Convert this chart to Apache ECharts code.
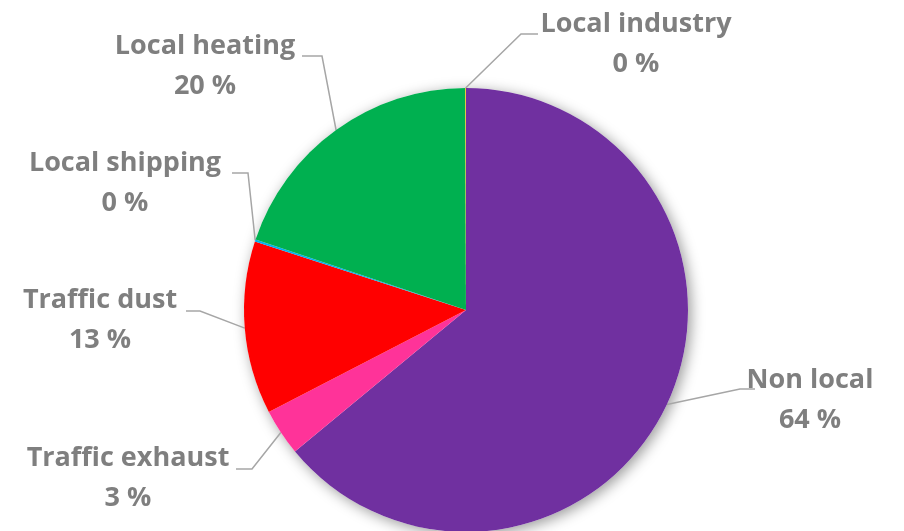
<!DOCTYPE html>
<html>
<head>
<meta charset="utf-8">
<script src="https://cdn.jsdelivr.net/npm/echarts@6/dist/echarts.min.js"></script>
<style>
  html, body { margin: 0; padding: 0; background: #fff; }
  #chart { width: 904px; height: 531px; }
</style>
</head>
<body>
<div id="chart"></div>
<script>
const categories = ['Non local', 'Traffic exhaust', 'Traffic dust', 'Local shipping', 'Local heating', 'Local industry']
const shares = [64.0, 3.4, 12.6, 0.15, 19.8, 0.05]
const colors = ['#7030A0', '#FF3399', '#FF0000', '#00B0F0', '#00B050', '#FFC000']

// label block centres and leader knees (px), per slice
const labelCenters = [[810, 400], [128, 478], [100, 320], [125, 183], [205, 66], [636, 44]]
const leaderKnees = [[740, 389, 755], [252, 469, 236], [200, 311, 186], [248, 173, 232], [322, 56, 302], [521, 34, 538]]

const chart = echarts.init(document.getElementById('chart'))

const data = categories.map((name, i) => ({
  name,
  value: shares[i],
  itemStyle: { color: colors[i] },
}))

const textStyle = { fontFamily: 'Open Sans', fontWeight: 'bold', fontSize: 27, color: '#7F7F7F', lineHeight: 40 }

chart.setOption({
  animation: false,
  series: [
    {
      // soft outer shadow behind the pie
      type: 'pie',
      silent: true,
      center: [466, 310],
      radius: 222,
      z: 1,
      label: { show: false },
      labelLine: { show: false },
      itemStyle: {
        color: '#fff',
        shadowBlur: 14,
        shadowOffsetX: 3,
        shadowOffsetY: 3,
        shadowColor: 'rgba(0,0,0,0.4)',
      },
      data: [{ value: 1 }],
    },
    {
      type: 'pie',
      center: [466, 310],
      radius: 222,
      z: 2,
      startAngle: 90,
      clockwise: true,
      itemStyle: { borderWidth: 0 },
      label: {
        show: true,
        position: 'outside',
        formatter: (p) => `{n|${p.name}}\n{p|${Math.round(p.percent)} %}`,
        rich: { n: textStyle, p: textStyle },
        align: 'center',
      },
      labelLine: {
        show: true,
        lineStyle: { color: '#A6A6A6', width: 1.5 },
      },
      labelLayout: (params) => {
        const i = params.dataIndex
        const c = labelCenters[i]
        const k = leaderKnees[i]
        const start = params.labelLinePoints ? params.labelLinePoints[0] : [k[0], k[1]]
        return {
          x: c[0],
          y: c[1],
          align: 'center',
          verticalAlign: 'middle',
          labelLinePoints: [start, [k[0], k[1]], [k[2], k[1]]],
        }
      },
      data,
    },
  ],
})
</script>
</body>
</html>
